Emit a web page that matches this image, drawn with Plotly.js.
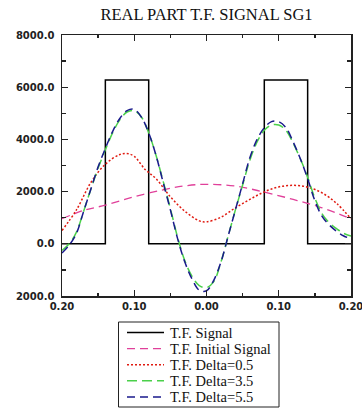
<!DOCTYPE html>
<html>
<head>
<meta charset="utf-8">
<script src="https://cdn.plot.ly/plotly-3.0.1.min.js"></script>
<style>html,body{margin:0;padding:0;background:#fff;}#chart{width:362px;height:417px;}</style>
</head>
<body>
<div id="chart"></div>
<script>
// Data
var signalX = [-0.2, -0.14, -0.08, 0.08, 0.14, 0.2];
var signalY = [0, 6280, 0, 6280, 0, 0];

var initX = [-0.2, -0.17, -0.14, -0.1, -0.06, -0.03, 0.0, 0.04, 0.08, 0.12, 0.16, 0.2];
var initY = [960, 1280, 1480, 1800, 2070, 2220, 2280, 2210, 1980, 1700, 1380, 960];

var d05X = [-0.2, -0.18, -0.16, -0.14, -0.12, -0.11, -0.1, -0.085, -0.07, -0.05, -0.03, -0.01, 0.0, 0.02, 0.04, 0.06, 0.08, 0.1, 0.12, 0.14, 0.16, 0.18, 0.2];
var d05Y = [510, 1300, 2350, 3050, 3420, 3460, 3350, 2850, 2500, 1800, 1250, 880, 840, 1020, 1380, 1700, 1990, 2180, 2240, 2170, 1950, 1550, 960];

var d35X = [-0.2, -0.19, -0.18, -0.17, -0.16, -0.15, -0.14, -0.13, -0.12, -0.11, -0.1, -0.09, -0.08, -0.07, -0.06, -0.05, -0.04, -0.03, -0.02, -0.01, 0.0, 0.01, 0.02, 0.03, 0.04, 0.05, 0.06, 0.07, 0.08, 0.09, 0.1, 0.11, 0.12, 0.13, 0.14, 0.15, 0.16, 0.17, 0.18, 0.19, 0.2];
var d35Y = [-250, 0, 450, 1250, 2100, 2900, 3600, 4250, 4750, 5050, 5100, 4850, 4250, 3400, 2400, 1350, 250, -650, -1250, -1600, -1680, -1450, -700, 300, 1300, 2250, 3200, 3900, 4350, 4550, 4550, 4350, 3850, 3250, 2550, 1750, 1150, 800, 580, 400, 300];

var d55X = [-0.2, -0.19, -0.18, -0.17, -0.16, -0.15, -0.14, -0.13, -0.12, -0.11, -0.1, -0.09, -0.08, -0.07, -0.06, -0.05, -0.04, -0.03, -0.02, -0.01, 0.0, 0.01, 0.02, 0.03, 0.04, 0.05, 0.06, 0.07, 0.08, 0.09, 0.1, 0.11, 0.12, 0.13, 0.14, 0.15, 0.16, 0.17, 0.18, 0.19, 0.2];
var d55Y = [-350, -50, 400, 1250, 2100, 2950, 3650, 4300, 4800, 5100, 5150, 4850, 4250, 3400, 2350, 1300, 200, -700, -1350, -1780, -1800, -1400, -700, 300, 1300, 2300, 3300, 4000, 4450, 4680, 4680, 4450, 3900, 3250, 2500, 1650, 1050, 720, 480, 300, 200];

var seriesNames = ["T.F. Signal", "T.F. Initial Signal", "T.F. Delta=0.5", "T.F. Delta=3.5", "T.F. Delta=5.5"];

var xTickVals = [-0.2, -0.1, 0.0, 0.1, 0.2];
var xTickText = ["0.20", "0.10", "0.00", "0.10", "0.20"];
var yTickVals = [-2000, 0, 2000, 4000, 6000, 8000];
var yTickText = ["2000.0", "0.0", "2000.0", "4000.0", "6000.0", "8000.0"];

var lineStyles = [
  {color: "#000000", width: 1.5, shape: "hv"},
  {color: "#e0409a", width: 1.3, dash: "8px,5px", shape: "spline"},
  {color: "#e01a10", width: 1.5, dash: "2px,2px", shape: "spline"},
  {color: "#4ad04a", width: 1.5, dash: "10px,5px", shape: "spline"},
  {color: "#1a1a8c", width: 1.5, dash: "8px,5px", shape: "spline"}
];
var xs = [signalX, initX, d05X, d35X, d55X];
var ys = [signalY, initY, d05Y, d35Y, d55Y];

var traces = [];
for (var i = 0; i < xs.length; i++) {
  traces.push({x: xs[i], y: ys[i], name: seriesNames[i], mode: "lines", line: lineStyles[i], showlegend: false});
}

// geometry
var W = 362, H = 417;
var M = {l: 62, r: 11, t: 35, b: 121};
var PW = W - M.l - M.r, PH = H - M.t - M.b;
function px2x(px) { return (px - M.l) / PW; }
function py2y(py) { return (H - M.b - py) / PH; }

var shapes = [];
var annotations = [];
// custom legend box
shapes.push({type: "rect", xref: "paper", yref: "paper", layer: "above",
  x0: px2x(118.5), x1: px2x(279), y0: py2y(322), y1: py2y(407),
  line: {color: "#222", width: 1}, fillcolor: "rgba(255,255,255,0)"});
for (var k = 0; k < seriesNames.length; k++) {
  var ry = 332.5 + 16.1 * k;
  var st = lineStyles[k];
  shapes.push({type: "line", xref: "paper", yref: "paper", layer: "above",
    x0: px2x(127), x1: px2x(164), y0: py2y(ry), y1: py2y(ry),
    line: {color: st.color, width: st.width, dash: st.dash || "solid"}});
  annotations.push({xref: "paper", yref: "paper", x: px2x(167.5), y: py2y(ry),
    xanchor: "left", yanchor: "middle", showarrow: false, text: seriesNames[k],
    font: {family: "Liberation Serif, Times New Roman, serif", size: 14.5, color: "#111"}});
}

var tickFont = {family: "DejaVu Sans, sans-serif", size: 10, color: "#222", weight: "bold"};

var layout = {
  width: W, height: H,
  margin: {l: M.l, r: M.r, t: M.t, b: M.b, pad: 0},
  paper_bgcolor: "#ffffff", plot_bgcolor: "#ffffff",
  showlegend: false,
  title: {text: "REAL PART T.F. SIGNAL SG1", x: 0.5, xref: "paper", y: 0.966, yref: "container", yanchor: "middle",
          font: {family: "Liberation Serif, Times New Roman, serif", size: 16.5, color: "#111"}},
  xaxis: {range: [-0.2, 0.2], tickmode: "array", tickvals: xTickVals, ticktext: xTickText,
          ticks: "inside", ticklen: 6, tickwidth: 1.3, tickcolor: "#222",
          showline: true, linecolor: "#222", linewidth: 1.5, mirror: "ticks",
          showgrid: false, zeroline: false, tickfont: tickFont, ticklabeloverflow: "allow",
          minor: {tickvals: [-0.15, -0.05, 0.05, 0.15], ticks: "inside", ticklen: 3, tickwidth: 1.3, tickcolor: "#222", showgrid: false}},
  yaxis: {range: [-2000, 8000], tickmode: "array", tickvals: yTickVals, ticktext: yTickText,
          ticks: "inside", ticklen: 6, tickwidth: 1.3, tickcolor: "#222",
          showline: true, linecolor: "#222", linewidth: 1.5, mirror: "ticks",
          showgrid: false, zeroline: false, tickfont: tickFont, ticklabelstandoff: 4, ticklabeloverflow: "allow",
          minor: {tickvals: [-1000, 1000, 3000, 5000, 7000], ticks: "inside", ticklen: 4, tickwidth: 1.3, tickcolor: "#222", showgrid: false}},
  shapes: shapes,
  annotations: annotations
};

Plotly.newPlot("chart", traces, layout, {staticPlot: true, displayModeBar: false});
</script>
</body>
</html>
